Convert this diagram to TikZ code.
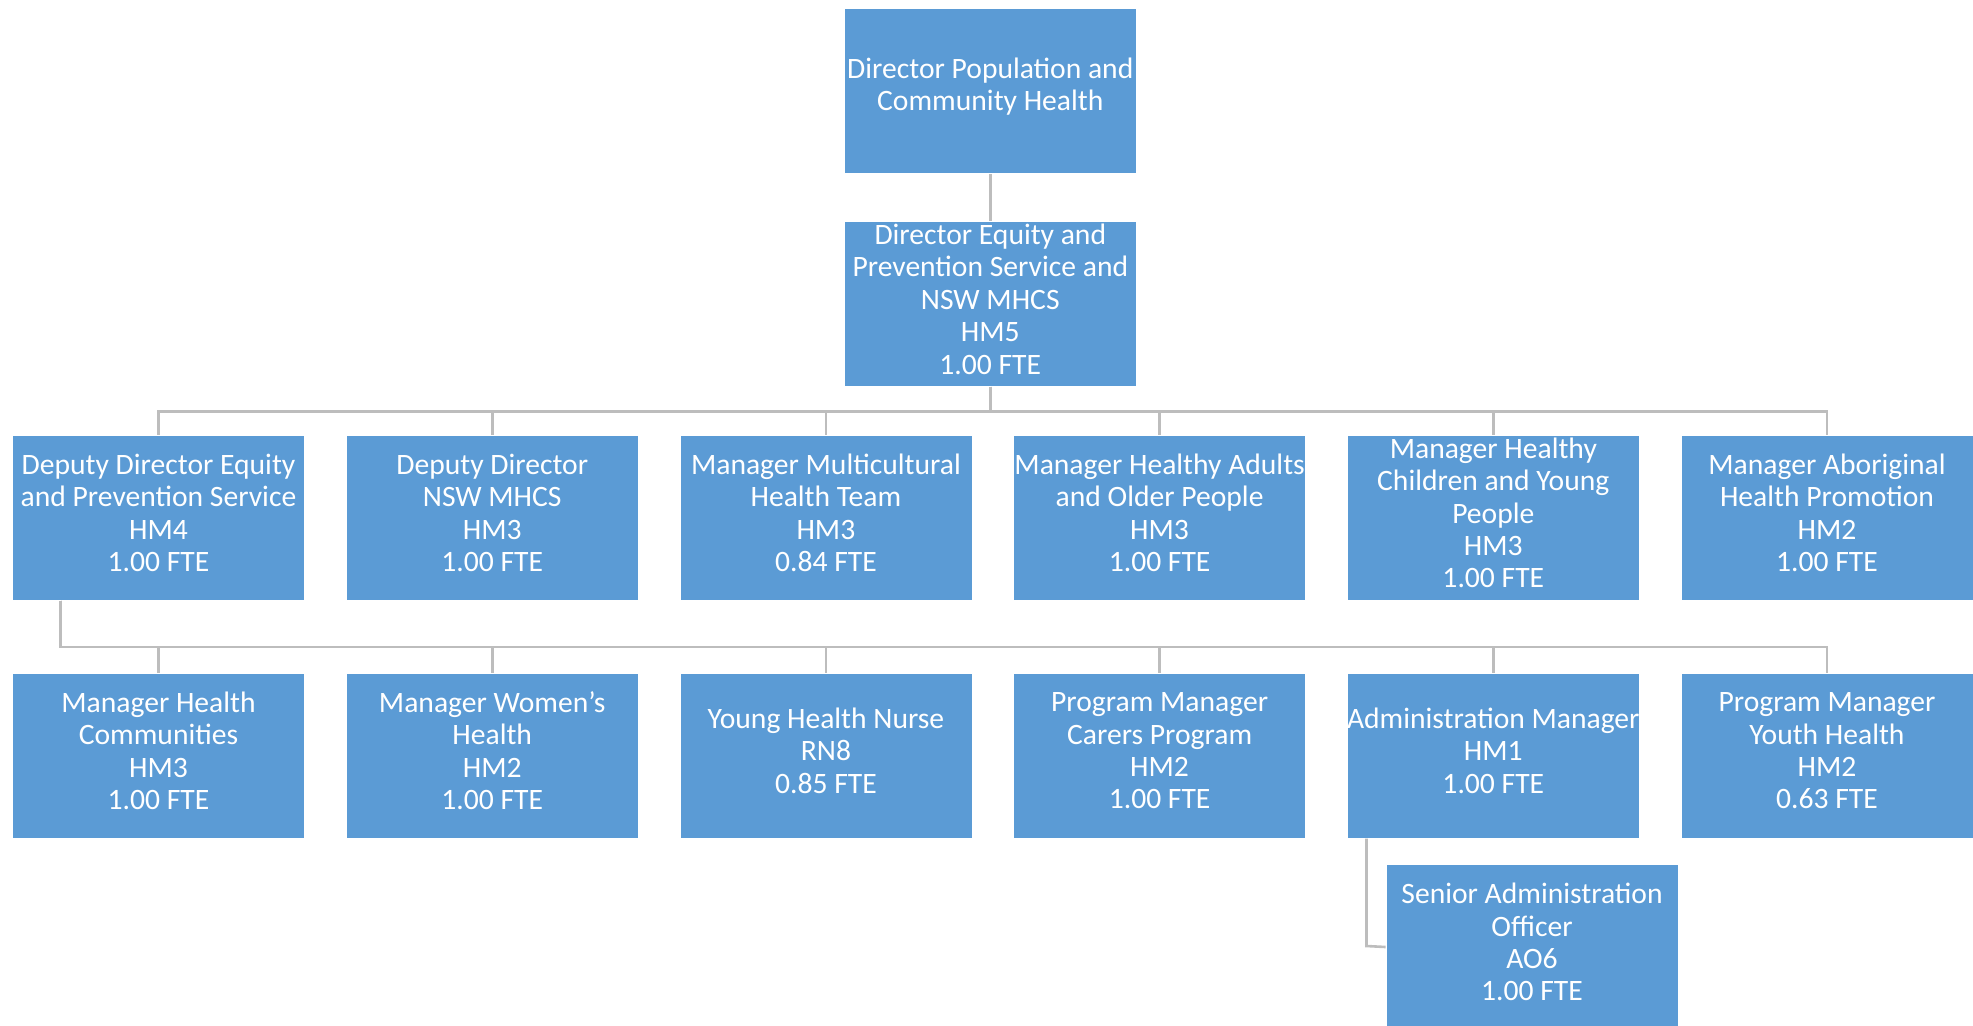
\documentclass[tikz,border=0pt]{standalone}
\usepackage{fontspec}
\setmainfont{Carlito}
\definecolor{boxblue}{HTML}{5B9BD5}
\definecolor{linegray}{HTML}{BDBDBD}
% a filled position box with its centred caption set slightly above the middle
\newcommand{\orgnode}[3]{%
  \node[orgbox] (#1) at (#2) {};
  \node[boxtext] (#1-text) at ([yshift=2.4pt]#1.center) {#3};}
\begin{document}
\begin{tikzpicture}[x=0.5pt,y=-0.5pt,
  orgbox/.style={fill=boxblue, draw=white, line width=0.4pt,
    minimum width=146pt, minimum height=82.5pt, inner sep=0pt},
  boxtext/.style={text=white, inner sep=0pt, align=center,
    font=\fontsize{14.8}{16.2}\selectfont},
  conn/.style={draw=linegray, line width=1.3pt}]
\useasboundingbox (0,0) rectangle (1973,1025);
\clip (0,0) rectangle (1973,1025);

% connector junction points
\coordinate (bus1) at (990.3,411.5);
\coordinate (bus2) at (60.4,646.8);
\coordinate (elb)  at (1366.5,946);

% top levels
\orgnode{dir}{990.3,91.2}{Director Population and\\Community Health}
\orgnode{dep}{990.3,303.9}{Director Equity and\\Prevention Service and\\NSW MHCS\\HM5\\1.00 FTE}

% first row
\orgnode{r1a}{158.5,517.8}{Deputy Director Equity\\and Prevention Service\\HM4\\1.00 FTE}
\orgnode{r1b}{492.2,517.8}{Deputy Director\\NSW MHCS\\HM3\\1.00 FTE}
\orgnode{r1c}{825.9,517.8}{Manager Multicultural\\Health Team\\HM3\\0.84 FTE}
\orgnode{r1d}{1159.6,517.8}{Manager Healthy Adults\\and Older People\\HM3\\1.00 FTE}
\orgnode{r1e}{1493.3,517.8}{Manager Healthy\\Children and Young\\People\\HM3\\1.00 FTE}
\orgnode{r1f}{1827.0,517.8}{Manager Aboriginal\\Health Promotion\\HM2\\1.00 FTE}

% second row
\orgnode{r2a}{158.5,755.6}{Manager Health\\Communities\\HM3\\1.00 FTE}
\orgnode{r2b}{492.2,755.6}{Manager Women’s\\Health\\HM2\\1.00 FTE}
\orgnode{r2c}{825.9,755.6}{Young Health Nurse\\RN8\\0.85 FTE}
\orgnode{r2d}{1159.6,755.6}{Program Manager\\Carers Program\\HM2\\1.00 FTE}
\orgnode{r2e}{1493.3,755.6}{Administration Manager\\HM1\\1.00 FTE}
\orgnode{r2f}{1827.0,755.6}{Program Manager\\Youth Health\\HM2\\0.63 FTE}

% third level
\orgnode{sen}{1532,947}{Senior Administration\\Officer\\AO6\\1.00 FTE}

% reporting lines
\draw[conn] (dir.south) -- (dep.north);
\foreach \n in {r1a,r1b,r1c,r1d,r1e,r1f}
  \draw[conn] (dep.south) -- (bus1) -| (\n.north);
\foreach \n in {r2a,r2b,r2c,r2d,r2e,r2f}
  \draw[conn] (r1a.south -| bus2) -- (bus2) -| (\n.north);
\draw[conn] (r2e.south -| elb) -- (elb) -- (sen.west);
\end{tikzpicture}
\end{document}
